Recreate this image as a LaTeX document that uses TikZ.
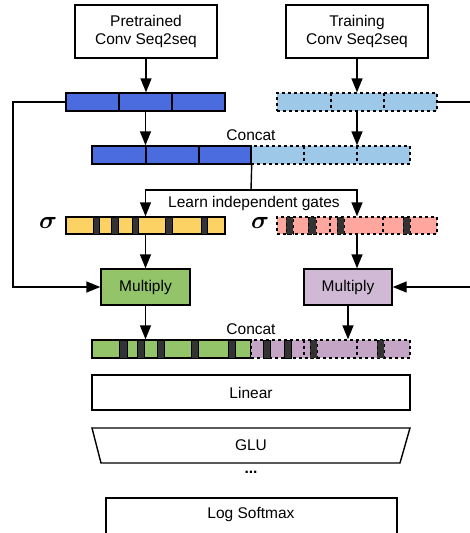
\documentclass[tikz,border=0pt]{standalone}
\usepackage{fontspec}
\setmainfont{Liberation Sans}
\usepackage{amsmath}
\usetikzlibrary{arrows.meta}
\definecolor{cblue}{HTML}{4A6CDE}
\definecolor{clight}{HTML}{9DC8E8}
\definecolor{cyellow}{HTML}{FDD264}
\definecolor{cpink}{HTML}{FFA69E}
\definecolor{cgreen}{HTML}{93C46A}
\definecolor{cpurple}{HTML}{D0B9D4}
\definecolor{cpurple2}{HTML}{C4A5C6}
\definecolor{cdark}{HTML}{333333}
\begin{document}
\begin{tikzpicture}[x=1pt,y=-1pt,
  font=\fontsize{15.5}{18.5}\selectfont,
  line width=1.4pt,
  arr/.style={-{Triangle[width=11pt,length=14pt]}, line width=1.4pt},
  box/.style={draw, line width=1.4pt, inner sep=0pt, align=center},
  bar/.style={draw, line width=1.4pt, minimum height=18pt, inner sep=0pt},
  dbar/.style={bar, dash pattern=on 3pt off 3pt},
  dsh/.style={dash pattern=on 3pt off 3pt},
  stripe/.style={fill=cdark, draw=black, line width=0.8pt},
  dstripe/.style={stripe, dash pattern=on 3pt off 3pt},
  sig/.style={font=\fontsize{33}{33}\selectfont},
]
\useasboundingbox (0,0) rectangle (469,533);

% top boxes
\node[box, minimum width=142pt, minimum height=53pt] (pre) at (146,31.5) {Pretrained\\Conv Seq2seq};
\node[box, minimum width=142pt, minimum height=53pt] (tra) at (357,31.5) {Training\\Conv Seq2seq};

% output bars
\node[bar, fill=cblue, minimum width=159pt] (pb) at (145.5,102) {};
\draw (119,93) -- (119,111) (172,93) -- (172,111);
\node[dbar, fill=clight, minimum width=160pt] (tb) at (357,102) {};
\draw[dsh] (331,93) -- (331,111) (384,93) -- (384,111);

% first concat
\node (c1lab) at (251,135) {Concat};
\node[bar, fill=cblue, minimum width=159pt] (cl) at (171.5,155) {};
\node[dbar, fill=clight, minimum width=159pt] (cr) at (330.5,155) {};
\draw (146,146) -- (146,164) (199,146) -- (199,164);
\draw[dsh] (304,146) -- (304,164) (357,146) -- (357,164);
\draw (251,146) -- (251,164);

\draw[arr] (pre.south) -- (pre.south |- pb.north);
\draw[arr] (tra.south) -- (tra.south |- tb.north);
\draw[arr] (pb.south) -- (pb.south |- cl.north);
\draw[arr] (tb.south) -- (tb.south |- cr.north);

% gates
\coordinate (split) at (251,190);
\draw (cl.south east) -- (split);
\node (glab) at (254,203) {Learn independent gates};
\node[bar, fill=cyellow, minimum width=159pt, minimum height=17pt] (gy) at (145.5,225.5) {};
\foreach \a/\b in {93/99,111/118,132/138,165/172,201/207}
  \draw[stripe] (\a,217) rectangle (\b,234);
\node[dbar, fill=cpink, minimum width=160pt, minimum height=17pt] (gp) at (357,225.5) {};
\draw[dsh] (330,217) -- (330,234) (383,217) -- (383,234);
\foreach \a/\b in {286/293,308/316,337/344,403/410}
  \draw[dstripe] (\a,217) rectangle (\b,234);
\draw[arr] (split) -| (gy.north);
\draw[arr] (split) -| (gp.north);
\node[sig] (s1) at (48,223) {$\boldsymbol{\sigma}$};
\node[sig] (s2) at (260,223) {$\boldsymbol{\sigma}$};

% multiply
\node[box, fill=cgreen, minimum width=89pt, minimum height=36pt] (ml) at (145.5,287) {Multiply};
\node[box, fill=cpurple, minimum width=88pt, minimum height=36pt] (mr) at (348,287) {Multiply};
\draw[arr] (gy.south) -- (gy.south |- ml.north);
\draw[arr] (gp.south) -- (gp.south |- mr.north);

\coordinate (lcorner) at (13,102);
\draw[arr] (pb.west) -- (lcorner) |- (ml.west);
\coordinate (redge1) at (470,102);
\coordinate (redge2) at (470,287);
\draw (tb.east) -- (redge1);
\draw[arr] (redge2) -- (mr.east);

% second concat
\node (c2lab) at (251,329) {Concat};
\node[bar, fill=cgreen, minimum width=159pt] (bl) at (171.5,349) {};
\node[dbar, fill=cpurple2, minimum width=159pt] (br) at (330.5,349) {};
\foreach \a/\b in {119/127,137/144,157/164,191/198,228/235}
  \draw[stripe] (\a,340) rectangle (\b,358);
\draw[dsh] (304,340) -- (304,358) (357,340) -- (357,358);
\foreach \a/\b in {263/270,284/291}
  \draw[stripe] (\a,340) rectangle (\b,358);
\foreach \a/\b in {310/317,377/384}
  \draw[dstripe] (\a,340) rectangle (\b,358);
\draw[arr] (ml.south) -- (ml.south |- bl.north);
\draw[arr] (mr.south) -- (mr.south |- br.north);

% lower layers
\node[box, minimum width=318pt, minimum height=35pt] (lin) at (251,392.5) {Linear};
\coordinate (g1) at (92,428);
\coordinate (g2) at (410,428);
\coordinate (g3) at (400,463);
\coordinate (g4) at (101,463);
\draw (g1) -- (g2) -- (g3) -- (g4) -- cycle;
\node (glu) at (251,445.5) {GLU};
\node (dots) at (251,472) {\textbf{...}};
\coordinate (ls1) at (106,545);
\coordinate (ls2) at (397,498);
\coordinate (ls3) at (397,545);
\draw (ls1) |- (ls2) -- (ls3);
\node (lsm) at (251,514) {Log Softmax};
\end{tikzpicture}
\end{document}
